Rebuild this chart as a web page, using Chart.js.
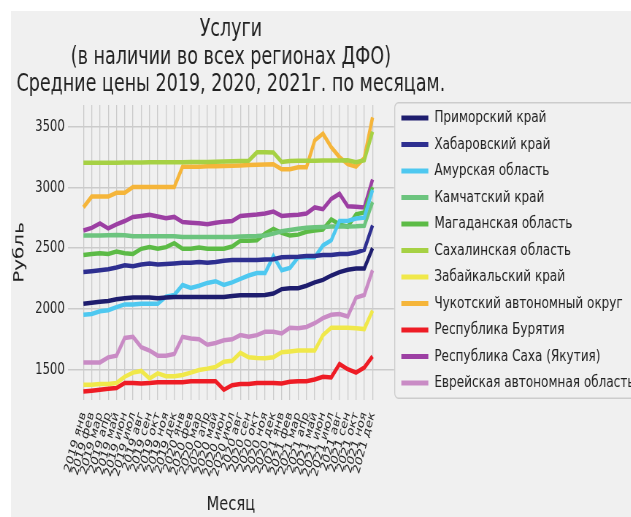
<!DOCTYPE html>
<html>
<head>
<meta charset="utf-8">
<script src="https://cdn.jsdelivr.net/npm/chart.js@4"></script>
<style>
  body { margin: 0; background: #fff; }
  #wrap { position: relative; width: 631px; height: 517px; overflow: hidden; background: #fff; }
  #bg { position: absolute; left: 11px; top: 11px; right: 0; bottom: 0; background: #f0f0f0; }
  #chart { position: absolute; left: 11px; top: 11px; transform: scaleX(0.73); transform-origin: 0 0; }
</style>
</head>
<body>
<div id="wrap">
  <div id="bg"></div>
  <canvas id="chart" height="506"></canvas>
</div>
<script>
const titleLines = ['Услуги', '(в наличии во всех регионах ДФО)', 'Средние цены 2019, 2020, 2021г. по месяцам.'];

const years = ['2019', '2020', '2021'];
const monthNames = ['янв', 'фев', 'мар', 'апр', 'май', 'июн', 'июл', 'авг', 'сен', 'окт', 'ноя', 'дек'];
const monthLabels = [];
years.forEach(y => monthNames.forEach(m => monthLabels.push(y + ' ' + m)));

const yTicks = [1500, 2000, 2500, 3000, 3500];

const regions = ['Приморский край', 'Хабаровский край', 'Амурская область', 'Камчатский край',
  'Магаданская область', 'Сахалинская область', 'Забайкальский край', 'Чукотский автономный округ',
  'Республика Бурятия', 'Республика Саха (Якутия)', 'Еврейская автономная область'];
const colors = ['#1e1d6e', '#2e2f90', '#4ec8f0', '#6cc47e', '#5cbb46', '#a6d144', '#f0e84a',
  '#f5b53a', '#ee1c25', '#9c3fa3', '#c98bc5'];

const primorsky = [2042,2051,2059,2065,2079,2087,2093,2093,2093,2087,2093,2098,2098,2098,2098,2098,2098,2098,2107,2112,2112,2112,2115,2126,2163,2171,2171,2191,2219,2239,2275,2303,2323,2332,2332,2500];
const khabarovsk = [2304,2310,2318,2327,2341,2360,2352,2366,2374,2366,2369,2374,2380,2380,2386,2380,2386,2397,2402,2402,2402,2402,2408,2410,2425,2428,2430,2436,2436,2444,2444,2453,2453,2464,2486,2688];
const amur = [1952,1958,1980,1989,2014,2037,2037,2042,2042,2042,2101,2115,2197,2172,2191,2214,2228,2197,2219,2247,2275,2295,2295,2436,2318,2338,2425,2425,2425,2523,2565,2724,2724,2744,2752,2980];
const kamchatka = [2605,2605,2605,2607,2608,2606,2598,2598,2598,2598,2598,2598,2593,2592,2592,2592,2592,2592,2593,2596,2598,2600,2605,2620,2640,2650,2660,2668,2672,2675,2678,2678,2678,2680,2685,2880];
const magadan = [2444,2453,2458,2453,2472,2458,2453,2495,2509,2495,2509,2542,2495,2495,2506,2495,2495,2495,2514,2562,2562,2565,2621,2660,2626,2604,2612,2635,2646,2654,2738,2696,2677,2780,2794,3004];
const sakhalin = [3205,3205,3205,3205,3205,3206,3207,3207,3208,3208,3208,3209,3209,3210,3210,3211,3212,3214,3216,3218,3220,3290,3290,3288,3210,3218,3220,3220,3220,3222,3222,3222,3225,3208,3225,3460];
const zabaikalsky = [1376,1376,1382,1382,1390,1441,1475,1489,1427,1469,1446,1446,1455,1475,1497,1508,1522,1564,1573,1638,1601,1595,1593,1601,1643,1649,1657,1657,1657,1784,1845,1845,1845,1840,1834,1986];
const chukotka = [2836,2926,2926,2926,2957,2957,3004,3004,3004,3004,3004,3004,3172,3172,3172,3175,3175,3178,3180,3182,3185,3188,3190,3192,3150,3150,3167,3167,3388,3444,3332,3251,3192,3172,3242,3578];
const buryatia = [1320,1326,1334,1342,1348,1390,1390,1385,1390,1396,1396,1396,1396,1404,1404,1404,1404,1334,1371,1382,1382,1390,1390,1390,1385,1399,1404,1404,1418,1441,1435,1545,1503,1475,1517,1609];
const sakha = [2646,2668,2705,2663,2697,2724,2758,2766,2775,2761,2747,2758,2716,2710,2705,2697,2710,2719,2724,2766,2772,2777,2786,2802,2766,2772,2775,2786,2836,2822,2906,2948,2845,2842,2836,3066];
const jewish = [1559,1559,1559,1601,1615,1761,1770,1685,1657,1615,1615,1629,1770,1756,1750,1705,1719,1741,1750,1784,1770,1784,1812,1812,1798,1845,1840,1851,1882,1924,1952,1958,1938,2093,2115,2318];

const series = [primorsky, khabarovsk, amur, kamchatka, magadan, sakhalin, zabaikalsky, chukotka, buryatia, sakha, jewish];

Chart.defaults.font.family = "'DejaVu Sans'";
Chart.defaults.color = '#222';

const legendFont = 16.5;
const legendBox = 37;

// canvas wide enough that the legend runs past the right edge, as in the picture
var m = document.createElement('canvas').getContext('2d');
m.font = legendFont + "px 'DejaVu Sans'";
var textW = Math.max(...regions.map(r => m.measureText(r).width));
var canvas = document.getElementById('chart');
canvas.width = Math.ceil(530 + 10 + legendBox + legendFont / 2 + textW + 4);

// rounded frame around the legend entries
const legendFrame = {
  id: 'legendFrame',
  afterDraw(chart) {
    const boxes = chart.legend.legendHitBoxes;
    if (!boxes || !boxes.length) return;
    const first = boxes[0];
    const last = boxes[boxes.length - 1];
    const ctx = chart.ctx;
    const x = first.left - 9;
    const y = first.top - 7;
    const w = chart.width - x + 20;
    const h = last.top + last.height - first.top + 14;
    ctx.save();
    ctx.strokeStyle = '#cccccc';
    ctx.lineWidth = 1.3;
    ctx.beginPath();
    ctx.roundRect(x, y, w, h, 5);
    ctx.stroke();
    ctx.restore();
  }
};

// title stays centred over the plot but its long last line must not be squeezed to the plot width
const wideTitle = {
  id: 'wideTitle',
  afterInit(chart) {
    const block = chart.titleBlock;
    const draw = block.draw.bind(block);
    block.draw = function (area) {
      const l = block.left, r = block.right;
      const cx = (l + r) / 2;
      block.left = cx - 420;
      block.right = cx + 420;
      draw(area);
      block.left = l;
      block.right = r;
    };
  }
};

new Chart(canvas.getContext('2d'), {
  type: 'line',
  data: {
    datasets: regions.map((name, k) => ({
      label: name,
      data: series[k].map((v, i) => ({x: i, y: v})),
      borderColor: colors[k],
      backgroundColor: colors[k],
      borderWidth: 4.5,
      pointRadius: 0,
      tension: 0
    }))
  },
  options: {
    responsive: false,
    animation: false,
    devicePixelRatio: 1,
    scales: {
      x: {
        type: 'linear',
        min: -1.9,
        max: 37.6,
        afterBuildTicks: s => { s.ticks = monthLabels.map((_, i) => ({value: i})); },
        ticks: {
          autoSkip: false,
          minRotation: 70,
          maxRotation: 70,
          padding: 10,
          font: {size: 13.5},
          callback: v => monthLabels[v]
        },
        grid: {color: '#cbcbcb', lineWidth: 1.3, drawTicks: false},
        border: {display: false},
        title: {display: true, text: 'Месяц', font: {size: 20}, padding: {top: 4, bottom: 0}}
      },
      y: {
        min: 1250,
        max: 3680,
        afterBuildTicks: s => { s.ticks = yTicks.map(v => ({value: v})); },
        ticks: {font: {size: 16}, padding: 4, callback: v => String(v)},
        grid: {color: '#cbcbcb', lineWidth: 1.5, drawTicks: false},
        border: {display: false},
        title: {display: true, text: 'Рубль', font: {size: 20}, padding: {top: 0, bottom: 5}}
      }
    },
    plugins: {
      title: {
        display: true,
        text: titleLines,
        fullSize: false,
        font: {size: 24, weight: 'normal', lineHeight: 1.15},
        color: '#222',
        padding: {top: 5, bottom: 6.2}
      },
      legend: {
        position: 'right',
        align: 'start',
        maxWidth: 600,
        title: {display: true, text: '', font: {size: 12, lineHeight: 1.2}, padding: {top: 74.35, bottom: 0}},
        labels: {
          boxWidth: legendBox,
          boxHeight: 5,
          padding: 10,
          font: {size: legendFont},
          color: '#222',
          generateLabels: chart => Chart.defaults.plugins.legend.labels.generateLabels(chart)
            .map(l => Object.assign(l, {lineWidth: 0}))
        }
      },
      tooltip: {enabled: false}
    }
  },
  plugins: [legendFrame, wideTitle]
});
</script>
</body>
</html>
